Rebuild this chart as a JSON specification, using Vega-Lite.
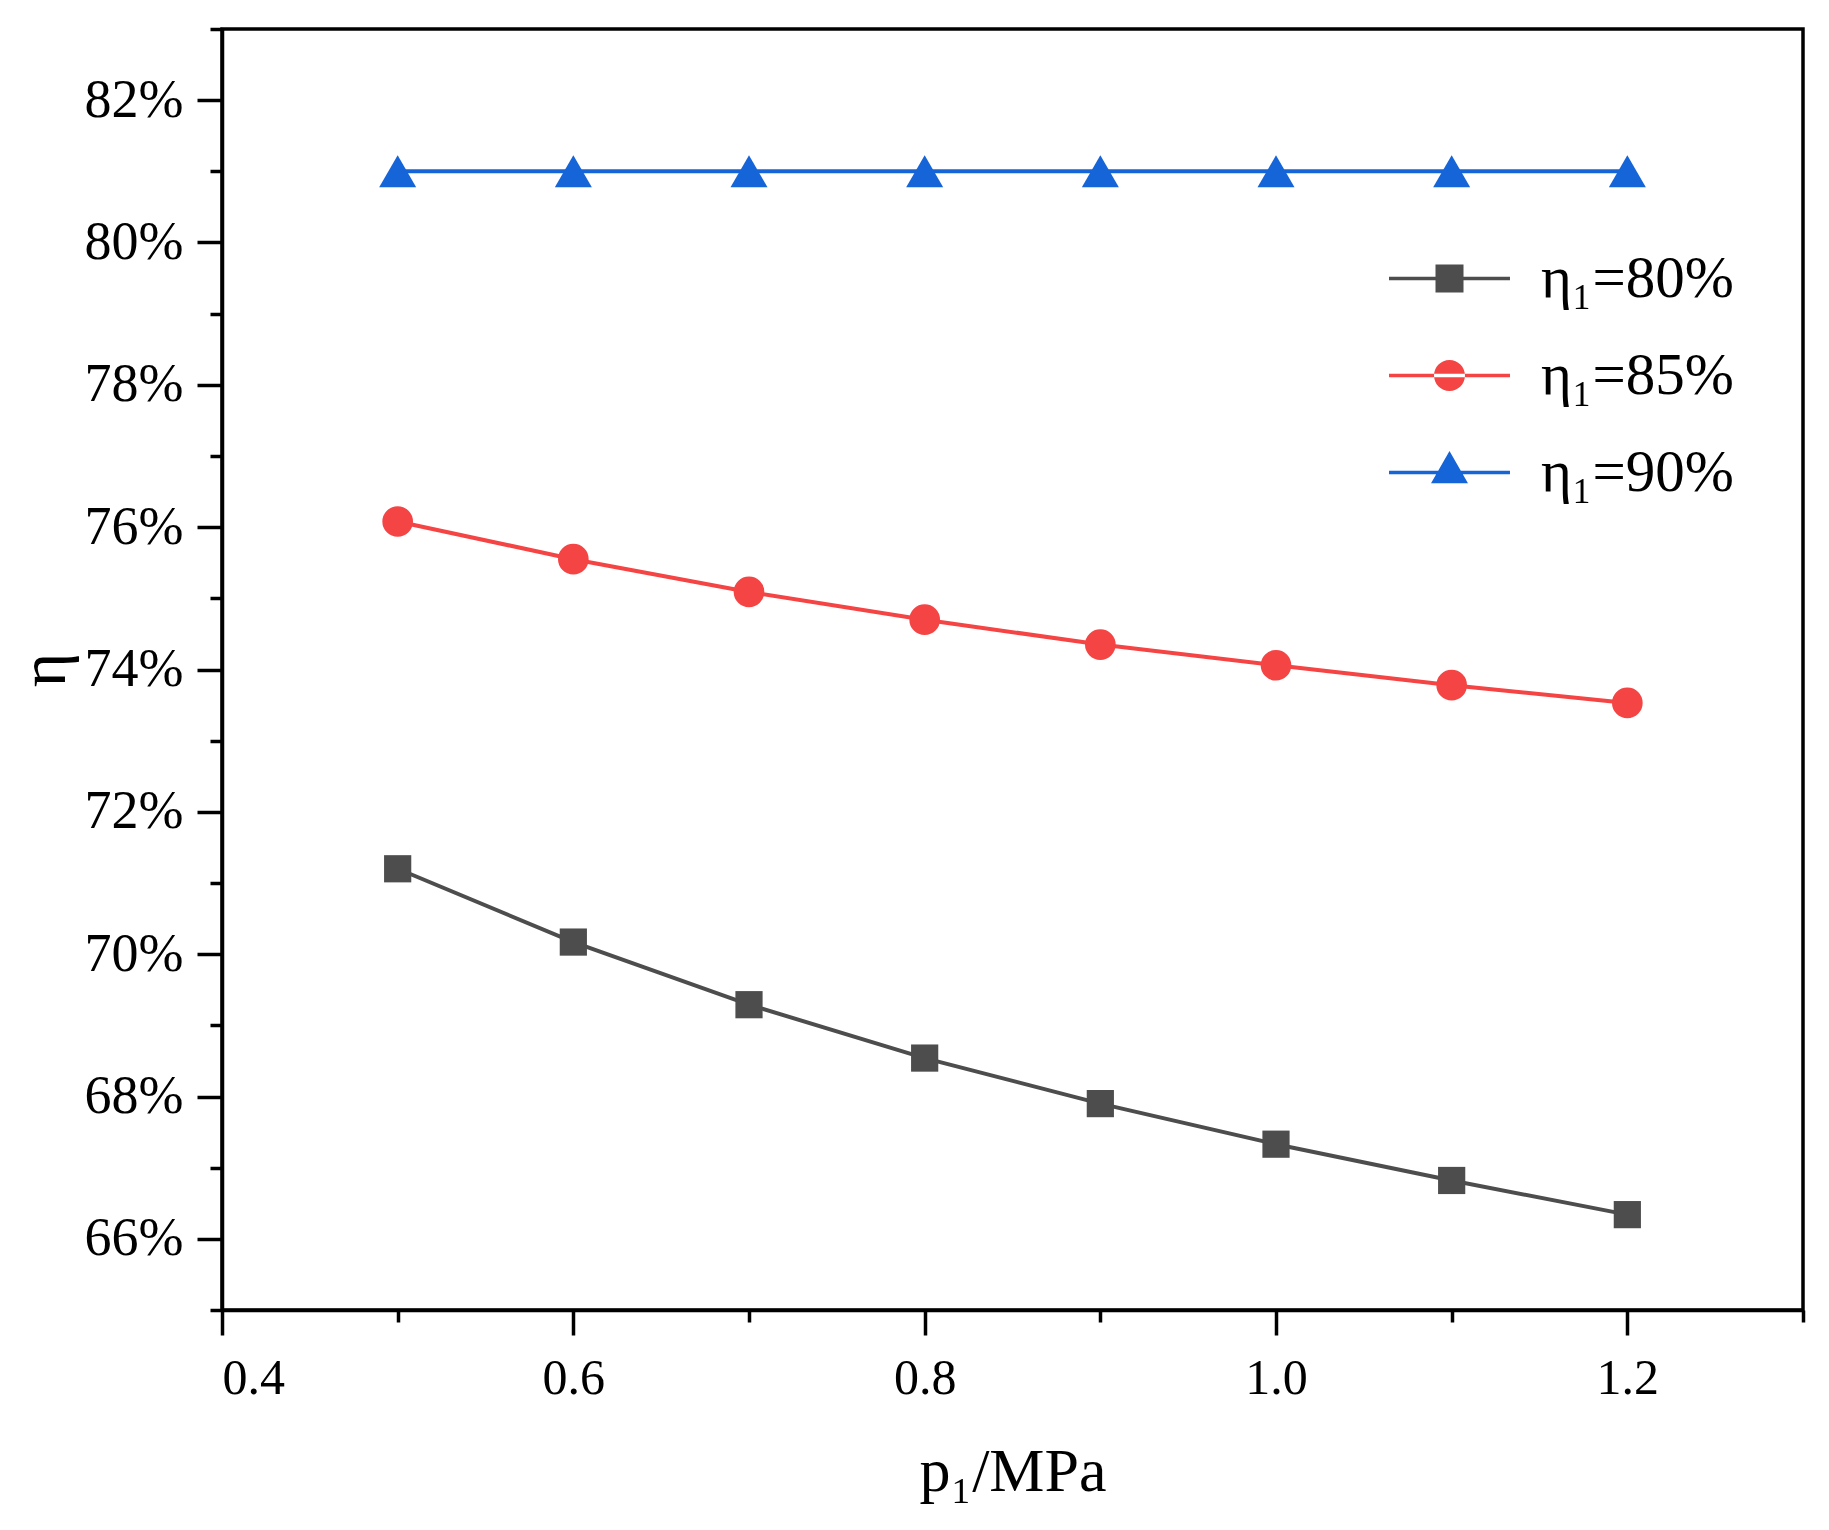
{
  "$schema": "https://vega.github.io/schema/vega-lite/v6.json",
  "width": 1581,
  "height": 1281,
  "autosize": {"type": "none"},
  "padding": {"left": 222, "top": 29, "right": 26, "bottom": 220},
  "background": "white",
  "config": {
    "font": "Liberation Serif",
    "view": {"stroke": "black", "strokeWidth": 3.5},
    "axis": {
      "domainColor": "black",
      "domainWidth": 3.5,
      "tickColor": "black",
      "tickWidth": 3.5,
      "grid": false,
      "labelFont": "Liberation Serif",
      "labelColor": "black",
      "titleFont": "Liberation Serif",
      "titleFontWeight": "normal",
      "titleColor": "black"
    }
  },
  "data": {
    "values": [
      {"p": 0.5, "eta": 71.20, "series": "η₁=80%"},
      {"p": 0.6, "eta": 70.17, "series": "η₁=80%"},
      {"p": 0.7, "eta": 69.29, "series": "η₁=80%"},
      {"p": 0.8, "eta": 68.54, "series": "η₁=80%"},
      {"p": 0.9, "eta": 67.90, "series": "η₁=80%"},
      {"p": 1.0, "eta": 67.33, "series": "η₁=80%"},
      {"p": 1.1, "eta": 66.82, "series": "η₁=80%"},
      {"p": 1.2, "eta": 66.34, "series": "η₁=80%"},
      {"p": 0.5, "eta": 76.08, "series": "η₁=85%"},
      {"p": 0.6, "eta": 75.55, "series": "η₁=85%"},
      {"p": 0.7, "eta": 75.09, "series": "η₁=85%"},
      {"p": 0.8, "eta": 74.70, "series": "η₁=85%"},
      {"p": 0.9, "eta": 74.35, "series": "η₁=85%"},
      {"p": 1.0, "eta": 74.06, "series": "η₁=85%"},
      {"p": 1.1, "eta": 73.78, "series": "η₁=85%"},
      {"p": 1.2, "eta": 73.53, "series": "η₁=85%"},
      {"p": 0.5, "eta": 81.0, "series": "η₁=90%"},
      {"p": 0.6, "eta": 81.0, "series": "η₁=90%"},
      {"p": 0.7, "eta": 81.0, "series": "η₁=90%"},
      {"p": 0.8, "eta": 81.0, "series": "η₁=90%"},
      {"p": 0.9, "eta": 81.0, "series": "η₁=90%"},
      {"p": 1.0, "eta": 81.0, "series": "η₁=90%"},
      {"p": 1.1, "eta": 81.0, "series": "η₁=90%"},
      {"p": 1.2, "eta": 81.0, "series": "η₁=90%"}
    ]
  },
  "encoding": {
    "color": {
      "field": "series",
      "type": "nominal",
      "scale": {
        "domain": ["η₁=80%", "η₁=85%", "η₁=90%"],
        "range": ["#4d4d4d", "#f54444", "#1565d8"]
      },
      "legend": {
        "title": null,
        "orient": "none",
        "legendX": 1198,
        "legendY": 220,
        "padding": 0,
        "symbolSize": 784,
        "labelFontSize": 59,
        "labelFont": "Liberation Serif",
        "labelColor": "black",
        "labelLimit": 0,
        "labelOffset": 62,
        "rowPadding": 37,
        "encode": {
          "symbols": {
            "update": {
              "shape": {"signal": "datum.index === 0 ? 'M-4.32,-0.13H4.32V0.13H-4.32Z M-1,-1H1V1H-1Z' : datum.index === 1 ? 'M-4.32,-0.13H4.32V0.13H-4.32Z M-1.107,0A1.107,1.107,0,1,0,1.107,0A1.107,1.107,0,1,0,-1.107,0Z' : 'M-4.32,-0.13H4.32V0.13H-4.32Z M0,-1.53L1.32,0.76H-1.32Z'"},
              "size": {"value": 784},
              "fill": {"signal": "scale('color', datum.value)"},
              "fillOpacity": {"value": 1},
              "strokeWidth": {"value": 0}
            }
          }
        }
      }
    },
    "x": {
      "field": "p",
      "type": "quantitative",
      "scale": {"domain": [0.4, 1.3], "nice": false, "zero": false}
    },
    "y": {
      "field": "eta",
      "type": "quantitative",
      "scale": {"domain": [65, 83], "nice": false, "zero": false}
    }
  },
  "layer": [
    {
      "mark": {"type": "line", "strokeWidth": 4},
      "encoding": {
        "x": {
          "field": "p",
          "type": "quantitative",
          "axis": {
            "orient": "bottom",
            "values": [0.4, 0.6, 0.8, 1.0, 1.2],
            "format": ".1f",
            "tickSize": 25,
            "labelFontSize": 50,
            "labelPadding": 18,
            "title": "p₁/MPa",
            "titleFontSize": 62,
            "titlePadding": 38
          }
        },
        "y": {
          "field": "eta",
          "type": "quantitative",
          "axis": {
            "orient": "left",
            "values": [66, 68, 70, 72, 74, 76, 78, 80, 82],
            "labelExpr": "datum.value + '%'",
            "tickSize": 25,
            "labelFontSize": 54,
            "labelPadding": 14,
            "title": "η",
            "titleFontSize": 66,
            "titlePadding": 6
          }
        }
      }
    },
    {
      "transform": [{"filter": "datum.series === 'η₁=80%'"}],
      "mark": {"type": "point", "shape": "square", "size": 740, "filled": true, "opacity": 1},
      "encoding": {
        "x": {
          "field": "p",
          "type": "quantitative",
          "axis": {
            "orient": "bottom",
            "values": [0.5, 0.7, 0.9, 1.1, 1.3],
            "tickSize": 12,
            "labels": false,
            "domain": false,
            "title": null
          }
        },
        "y": {
          "field": "eta",
          "type": "quantitative",
          "axis": {
            "orient": "left",
            "values": [65, 67, 69, 71, 73, 75, 77, 79, 81, 83],
            "tickSize": 12,
            "labels": false,
            "domain": false,
            "title": null
          }
        }
      }
    },
    {
      "transform": [{"filter": "datum.series === 'η₁=85%'"}],
      "mark": {"type": "point", "shape": "circle", "size": 940, "filled": true, "opacity": 1},
      "encoding": {
        "x": {"field": "p", "type": "quantitative", "axis": null},
        "y": {"field": "eta", "type": "quantitative", "axis": null}
      }
    },
    {
      "transform": [{"filter": "datum.series === 'η₁=90%'"}],
      "mark": {"type": "point", "shape": "triangle-up", "size": 1369, "filled": true, "opacity": 1},
      "encoding": {
        "x": {"field": "p", "type": "quantitative", "axis": null},
        "y": {"field": "eta", "type": "quantitative", "axis": null}
      }
    }
  ],
  "resolve": {
    "axis": {"x": "independent", "y": "independent"},
    "scale": {"x": "shared", "y": "shared"}
  }
}
